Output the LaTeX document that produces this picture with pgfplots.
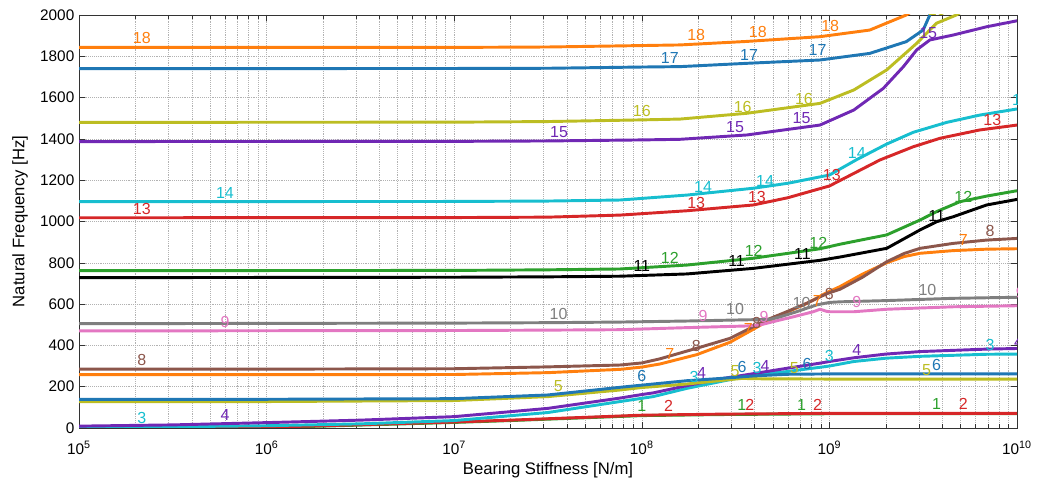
\documentclass[border=0pt]{standalone}
\usepackage{fontspec}
\setmainfont{Liberation Sans}
\usepackage{pgfplots}
\pgfplotsset{compat=1.18}

% mode colours
\definecolor{mgreen}{HTML}{2CA02C}
\definecolor{mred}{HTML}{D62728}
\definecolor{mcyan}{HTML}{17BECF}
\definecolor{mpurple}{HTML}{7028B4}
\definecolor{molive}{HTML}{BCBD22}
\definecolor{mblue}{HTML}{1F77B4}
\definecolor{morange}{HTML}{FF7F0E}
\definecolor{mbrown}{HTML}{8C564B}
\definecolor{mpink}{HTML}{E377C2}
\definecolor{mgray}{HTML}{7F7F7F}
\definecolor{mblack}{HTML}{000000}

\newcommand\labfont{\fontsize{12}{14}\selectfont}
\newcommand\lab[4]{\node[text=#1,font=\labfont,inner sep=0pt] at (axis cs:#2,#3) {#4};}

\begin{document}
\begin{tikzpicture}
\begin{axis}[
  scale only axis,
  width=703.5pt, height=309.75pt,
  xmode=log, log basis x=10,
  xmin=1e5, xmax=1e10, ymin=0, ymax=2000,
  ytick={0,200,...,2000},
  xticklabel={10\textsuperscript{\pgfmathprintnumber[fixed,precision=0]{\tick}}},
  xticklabel style={yshift=-6.5pt},
  /pgf/number format/assume math mode=true,
  /pgf/number format/1000 sep={},
  grid=both,
  major grid style={densely dotted, black!30},
  minor grid style={densely dotted, black!30},
  minor y tick num=0,
  axis line style={black!80},
  every tick/.style={black!80},
  tick label style={font=\fontsize{11.5}{13}\selectfont},
  label style={font=\fontsize{12.5}{15}\selectfont},
  xlabel={Bearing Stiffness [N/m]},
  ylabel={Natural Frequency [Hz]},
  xlabel style={at={(axis description cs:0.5,-0.1017)}, anchor=center},
  ylabel style={at={(axis description cs:-0.0629,0.5)}, anchor=center},
  every axis plot/.append style={line width=2.2pt, line join=round},
]
% mode 1
\addplot[mgreen] coordinates {(1e5,0.3)(1e6,3)(2.2e6,10)(1e7,27)(2e7,36)(1e8,60)(2.6e8,65)(1e9,69)(1e10,69)};
% mode 2
\addplot[mred] coordinates {(1e5,0.5)(1e6,4)(2.2e6,12)(1e7,29)(2e7,38)(1e8,62)(2.6e8,67)(1e9,71)(1e10,71)};
% mode 3
\addplot[mcyan] coordinates {(1e5,3)(3.16e5,6)(1e6,11)(3.16e6,20)(1e7,36)(3.16e7,75)(7.66e7,128)(1.15e8,152)(1.74e8,192)(2.63e8,225)(3.93e8,257)(5.92e8,273)(8.91e8,294)(1e9,300)(1.35e9,322)(2e9,338)(3.04e9,347)(6.89e9,357)(1e10,358)};
% mode 4
\addplot[mpurple] coordinates {(1e5,9)(3.16e5,15)(1e6,26)(3.16e6,38)(1e7,55)(3.16e7,95)(7.66e7,145)(1e8,162)(1.15e8,170)(1.74e8,205)(2.63e8,238)(3.93e8,263)(5.92e8,289)(8.91e8,314)(1e9,322)(1.35e9,340)(2e9,358)(3.04e9,370)(6.89e9,382)(1e10,385)};
% mode 5
\addplot[molive] coordinates {(1e5,128)(1e6,128)(1e7,133)(3.16e7,152)(7.66e7,184)(1e8,196)(1.15e8,200)(1.74e8,213)(2.63e8,230)(3.4e8,240)(4.5e8,238)(1e9,237)(1e10,237)};
% mode 6
\addplot[mblue] coordinates {(1e5,139)(1e6,139)(1e7,142)(3.16e7,160)(7.66e7,197)(1.15e8,213)(1.74e8,229)(2.63e8,240)(3.93e8,252)(5.92e8,260)(1e9,262)(1e10,262)};
% mode 7
\addplot[morange] coordinates {(1e5,258)(1e6,258)(1e7,259)(3.16e7,268)(7.66e7,284)(1e8,295)(1.25e8,310)(1.96e8,355)(2.95e8,415)(3.93e8,478)(4.62e8,515)(5.92e8,560)(7.57e8,603)(9.66e8,655)(1.14e9,685)(1.5e9,745)(2.02e9,800)(2.5e9,830)(3.04e9,846)(4.57e9,859)(6.89e9,866)(1e10,868)};
% mode 8
\addplot[mbrown] coordinates {(1e5,285)(1e6,285)(1e7,287)(3.16e7,296)(7.66e7,305)(1e8,315)(1.25e8,335)(1.96e8,386)(2.95e8,434)(3.93e8,491)(4.62e8,523)(5.92e8,563)(7.57e8,604)(9.66e8,650)(1.14e9,672)(1.5e9,730)(2.02e9,805)(2.5e9,845)(3.04e9,870)(4.57e9,894)(6.89e9,910)(1e10,918)};
% mode 9
\addplot[mpink] coordinates {(1e5,470)(1e7,472)(3.16e7,474)(7.66e7,476)(1.74e8,486)(3.63e8,494)(4.27e8,499)(5.01e8,515)(6.46e8,539)(8.2e8,563)(8.91e8,575)(9.66e8,565)(1e9,563)(1.35e9,563)(2.02e9,575)(4.57e9,587)(1e10,592)};
% mode 10
\addplot[mgray] coordinates {(1e5,505)(1e7,508)(3.16e7,510)(7.66e7,513)(1.74e8,518)(3.21e8,523)(4.82e8,526)(5.5e8,539)(6.68e8,563)(8.55e8,596)(1e9,608)(1.14e9,611)(2.02e9,617)(4.57e9,628)(1e10,633)};
% mode 11
\addplot[mblack] coordinates {(1e5,728)(1e7,730)(3.16e7,732)(7.66e7,735)(1.74e8,746)(3.93e8,773)(8.91e8,812)(1.14e9,828)(2.02e9,870)(3.04e9,959)(3.73e9,999)(4.57e9,1023)(6.89e9,1080)(1e10,1107)};
% mode 12
\addplot[mgreen] coordinates {(1e5,762)(1e7,763)(3.16e7,766)(7.66e7,770)(1.74e8,789)(3.93e8,822)(8.91e8,868)(1.14e9,890)(2.02e9,935)(3.04e9,1007)(3.73e9,1048)(4.97e9,1096)(6.89e9,1123)(1e10,1149)};
% mode 13
\addplot[mred] coordinates {(1e5,1018)(1e7,1019)(3.16e7,1021)(7.66e7,1031)(1.74e8,1052)(3.93e8,1080)(6e8,1115)(1e9,1172)(1.35e9,1233)(1.86e9,1298)(2.8e9,1362)(3.89e9,1403)(6.31e9,1443)(1e10,1467)};
% mode 14
\addplot[mcyan] coordinates {(1e5,1096)(1e7,1097)(3.16e7,1099)(7.66e7,1104)(1.74e8,1128)(3.93e8,1161)(6e8,1185)(1e9,1225)(1.4e9,1300)(2.02e9,1375)(2.8e9,1432)(4.22e9,1480)(6.31e9,1515)(1e10,1545)};
% mode 15
\addplot[mpurple] coordinates {(1e5,1387)(1e7,1388)(3.16e7,1390)(1e8,1395)(1.6e8,1398)(3.63e8,1419)(8.91e8,1467)(1.35e9,1540)(1.94e9,1645)(2.48e9,1750)(2.92e9,1831)(3.43e9,1879)(4.57e9,1903)(6.89e9,1943)(1e10,1972)};
% mode 16
\addplot[molive] coordinates {(1e5,1480)(1e7,1481)(3.16e7,1484)(1e8,1492)(1.6e8,1496)(3.63e8,1524)(8.91e8,1572)(1.35e9,1637)(2.02e9,1734)(2.92e9,1863)(3.72e9,1960)(4.75e9,2000)(6e9,2060)};
% mode 17
\addplot[mblue] coordinates {(1e5,1740)(1e7,1741)(3.16e7,1742)(1e8,1748)(1.6e8,1750)(3.63e8,1766)(8.91e8,1782)(1.64e9,1814)(2.57e9,1871)(3.16e9,1927)(3.43e9,2000)(3.7e9,2070)};
% mode 18
\addplot[morange] coordinates {(1e5,1843)(1e7,1843)(3.16e7,1845)(1e8,1852)(1.6e8,1855)(3.63e8,1872)(8.91e8,1895)(1.64e9,1927)(2.57e9,2000)(3e9,2040)};

% mode numbers along the curves
\begin{scope}
\clip (rel axis cs:0,0) rectangle (rel axis cs:1,1);
\lab{morange}{2.16e5}{1890}{18}\lab{morange}{1.95e8}{1903}{18}\lab{morange}{4.15e8}{1916}{18}\lab{morange}{1.01e9}{1947}{18}
\lab{mblue}{1.41e8}{1790}{17}\lab{mblue}{3.73e8}{1806}{17}\lab{mblue}{8.65e8}{1830}{17}
\lab{molive}{1.0e8}{1535}{16}\lab{molive}{3.45e8}{1556}{16}\lab{molive}{7.32e8}{1593}{16}\lab{molive}{3.73e9}{2024}{16}
\lab{mpurple}{3.62e7}{1435}{15}\lab{mpurple}{3.14e8}{1459}{15}\lab{mpurple}{7.1e8}{1500}{15}\lab{mpurple}{3.36e9}{1911}{15}
\lab{mcyan}{6.0e5}{1137}{14}\lab{mcyan}{2.12e8}{1168}{14}\lab{mcyan}{4.54e8}{1196}{14}\lab{mcyan}{1.40e9}{1333}{14}\lab{mcyan}{1.05e10}{1588}{14}
\lab{mred}{2.16e5}{1061}{13}\lab{mred}{1.95e8}{1090}{13}\lab{mred}{4.11e8}{1120}{13}\lab{mred}{1.03e9}{1225}{13}\lab{mred}{7.38e9}{1492}{13}
\lab{mgreen}{1.41e8}{822}{12}\lab{mgreen}{3.95e8}{857}{12}\lab{mgreen}{8.73e8}{897}{12}\lab{mgreen}{5.17e9}{1120}{12}
\lab{mblack}{1.0e8}{784}{11}\lab{mblack}{3.2e8}{810}{11}\lab{mblack}{7.19e8}{843}{11}\lab{mblack}{3.73e9}{1027}{11}
\lab{mgray}{3.6e7}{552}{10}\lab{mgray}{3.14e8}{575}{10}\lab{mgray}{7.11e8}{604}{10}\lab{mgray}{3.33e9}{668}{10}
\lab{mpink}{6.0e5}{515}{9}\lab{mpink}{2.12e8}{542}{9}\lab{mpink}{4.48e8}{536}{9}\lab{mpink}{1.40e9}{612}{9}\lab{mpink}{1.04e10}{652}{9}
\lab{mbrown}{2.16e5}{329}{8}\lab{mbrown}{1.95e8}{399}{8}\lab{mbrown}{4.09e8}{510}{8}\lab{mbrown}{1.0e9}{650}{8}\lab{mbrown}{7.18e9}{956}{8}
\lab{morange}{1.41e8}{356}{7}\lab{morange}{3.70e8}{478}{7}\lab{morange}{8.61e8}{616}{7}\lab{morange}{5.17e9}{912}{7}
\lab{molive}{3.59e7}{205}{5}\lab{molive}{3.14e8}{277}{5}\lab{molive}{6.5e8}{292}{5}\lab{molive}{3.30e9}{281}{5}
\lab{mblue}{1.0e8}{253}{6}\lab{mblue}{3.42e8}{294}{6}\lab{mblue}{7.6e8}{310}{6}\lab{mblue}{3.73e9}{305}{6}
\lab{mpurple}{6.0e5}{63}{4}\lab{mpurple}{2.08e8}{268}{4}\lab{mpurple}{4.54e8}{300}{4}\lab{mpurple}{1.40e9}{378}{4}\lab{mpurple}{1.02e10}{418}{4}
\lab{mcyan}{2.16e5}{47}{3}\lab{mcyan}{1.90e8}{248}{3}\lab{mcyan}{4.11e8}{289}{3}\lab{mcyan}{1.0e9}{351}{3}\lab{mcyan}{7.18e9}{402}{3}
\lab{mred}{1.39e8}{108}{2}\lab{mred}{3.77e8}{111}{2}\lab{mred}{8.65e8}{111}{2}\lab{mred}{5.17e9}{116}{2}
\lab{mgreen}{1.0e8}{107}{1}\lab{mgreen}{3.41e8}{111}{1}\lab{mgreen}{7.1e8}{111}{1}\lab{mgreen}{3.73e9}{116}{1}
\end{scope}
\end{axis}
\path (current axis.south west) ++(-59.25pt,-46.5pt) rectangle ([shift={(16.5pt,11.25pt)}]current axis.north east);
\end{tikzpicture}
\end{document}
